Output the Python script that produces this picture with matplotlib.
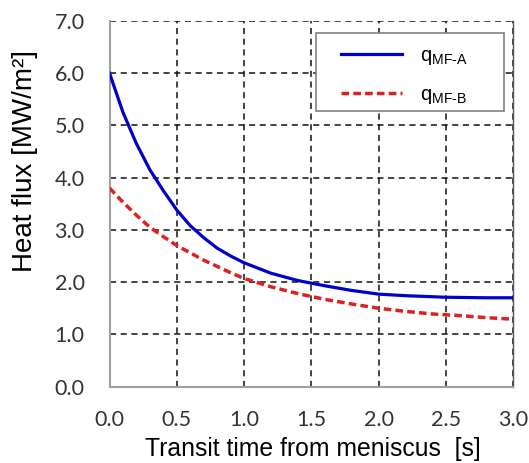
import matplotlib
matplotlib.use("Agg")
import matplotlib.pyplot as plt
from matplotlib.patches import Rectangle

plt.rcParams['mathtext.fontset'] = 'custom'
plt.rcParams['mathtext.rm'] = 'Liberation Sans'
plt.rcParams['mathtext.it'] = 'Liberation Sans:italic'

# Transit time [s] and heat flux [MW/m2] for the two mould-flux cases
time_a = [0.0, 0.1, 0.2, 0.3, 0.4, 0.5, 0.6, 0.7, 0.8, 0.9, 1.0, 1.2, 1.4,
          1.6, 1.8, 2.0, 2.2, 2.5, 2.8, 3.0]
flux_a = [6.00, 5.25, 4.65, 4.15, 3.75, 3.38, 3.08, 2.85, 2.65, 2.50, 2.37,
          2.17, 2.03, 1.93, 1.84, 1.77, 1.74, 1.71, 1.70, 1.70]

time_b = [0.0, 0.1, 0.2, 0.3, 0.4, 0.5, 0.6, 0.7, 0.8, 0.9, 1.0, 1.2, 1.4,
          1.6, 1.8, 2.0, 2.2, 2.4, 2.6, 2.8, 3.0]
flux_b = [3.80, 3.53, 3.28, 3.05, 2.87, 2.70, 2.56, 2.42, 2.30, 2.18, 2.07,
          1.91, 1.78, 1.67, 1.58, 1.50, 1.44, 1.39, 1.36, 1.32, 1.29]

x_ticks = [0.0, 0.5, 1.0, 1.5, 2.0, 2.5, 3.0]
y_ticks = [0.0, 1.0, 2.0, 3.0, 4.0, 5.0, 6.0, 7.0]

fig = plt.figure(figsize=(5.29, 4.63), dpi=100)
ax = fig.add_axes([0.207, 0.165, 0.763, 0.790])

ax.plot(time_a, flux_a, color='#0000CC', lw=2.3, label='q$_{\\mathrm{MF‐A}}$',
        zorder=3)
ax.plot(time_b, flux_b, color='#DD2020', lw=2.5, ls=(0, (2.2, 1.2)),
        label='q$_{\\mathrm{MF‐B}}$', zorder=3)

ax.set_xlim(0, 3.0)
ax.set_ylim(0, 7.0)
ax.set_xticks(x_ticks)
ax.set_yticks(y_ticks)
ax.set_xticklabels([f'{v:.1f}' for v in x_ticks], family='Lato', fontsize=15.5,
                   color='#333333')
ax.set_yticklabels([f'{v:.1f}' for v in y_ticks], family='Lato', fontsize=15.5,
                   color='#333333')
ax.tick_params(axis='both', length=0)
ax.tick_params(axis='x', pad=17)
ax.tick_params(axis='y', pad=18)

ax.grid(True, color='#111111', ls=(0, (4, 3)), lw=1.1)
ax.set_axisbelow(True)

ax.spines['top'].set_visible(False)
ax.spines['right'].set_color('#555555')
ax.spines['right'].set_linewidth(1.0)
for side in ['left', 'bottom']:
    ax.spines[side].set_color('#A0A0A0')
    ax.spines[side].set_linewidth(1.5)

ax.set_xlabel('Transit time from meniscus  [s]', family='Liberation Sans',
              fontsize=17.8)
ax.set_ylabel('Heat flux [MW/m²]', family='Liberation Sans', fontsize=20)
ax.xaxis.set_label_coords(0.503, -0.138)
ax.yaxis.set_label_coords(-0.178, 0.616)

# legend frame drawn separately so the entries can sit off-centre inside it
ax.add_patch(Rectangle((0.512, 0.754), 0.466, 0.213, transform=ax.transAxes,
                       facecolor='white', edgecolor='#808080', lw=1.2,
                       zorder=4))
ax.legend(loc='upper left', bbox_to_anchor=(0.574, 0.932), borderaxespad=0,
          borderpad=0, frameon=False, handlelength=3.0, handletextpad=0.9,
          labelspacing=0.9, prop={'family': 'Liberation Sans', 'size': 14.5})

fig.savefig('out.png', dpi=100, facecolor='white')
